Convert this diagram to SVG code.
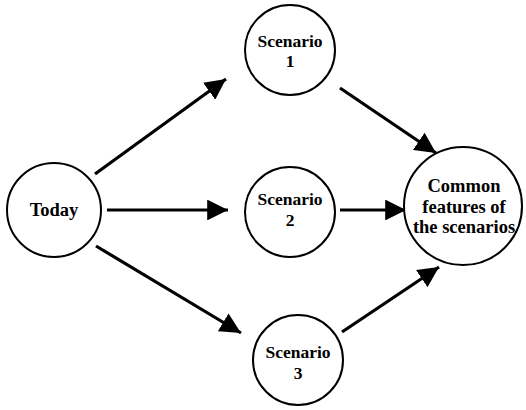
<svg xmlns="http://www.w3.org/2000/svg" width="526" height="410" viewBox="0 0 526 410">
<defs>
<marker id="ah" viewBox="0 0 10 10" refX="10" refY="5" markerWidth="6.5" markerHeight="6.5" markerUnits="strokeWidth" orient="auto">
<path d="M0,0 L10,5 L0,10 z" fill="#000"/>
</marker>
<style>
.node{fill:#fff;stroke:#000;stroke-width:2}
.lbl{font-family:"Liberation Serif","Times New Roman",serif;font-size:17.5px;font-weight:bold;fill:#000;text-anchor:middle}
.big{font-size:18.5px}
.edge{stroke:#000;stroke-width:3.2;fill:none;marker-end:url(#ah)}
</style>
</defs>
<g id="connectors">
<line class="edge" x1="95" y1="174" x2="226" y2="79"/>
<line class="edge" x1="107" y1="210" x2="228" y2="210"/>
<line class="edge" x1="96" y1="246" x2="241" y2="333"/>
<line class="edge" x1="340" y1="88" x2="436" y2="153"/>
<line class="edge" x1="340" y1="210" x2="406" y2="210"/>
<line class="edge" x1="342" y1="332" x2="439" y2="267"/>
</g>
<g id="today"><circle class="node" cx="54" cy="210" r="47"/><text class="lbl big" x="54" y="216">Today</text></g>
<g id="s1"><circle class="node" cx="290" cy="50" r="45"/><text class="lbl" x="290" y="47">Scenario</text><text class="lbl" x="290" y="67">1</text></g>
<g id="s2"><circle class="node" cx="290" cy="212" r="45"/><text class="lbl" x="290" y="205">Scenario</text><text class="lbl" x="290" y="226">2</text></g>
<g id="s3"><circle class="node" cx="298" cy="360" r="45"/><text class="lbl" x="298" y="358">Scenario</text><text class="lbl" x="298" y="379">3</text></g>
<g id="common"><circle class="node" cx="463" cy="206" r="59"/><text class="lbl big" x="464" y="192">Common</text><text class="lbl big" x="464" y="213">features of</text><text class="lbl big" x="464" y="233">the scenarios</text></g>
</svg>
